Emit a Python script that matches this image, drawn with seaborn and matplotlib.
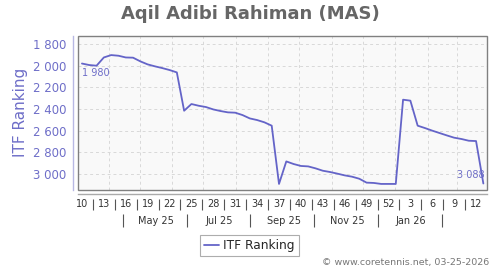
import matplotlib
matplotlib.use("Agg")
import matplotlib.pyplot as plt
import matplotlib.transforms as mtransforms
from matplotlib.patches import Rectangle
import seaborn as sns
import pandas as pd
import numpy as np

# ---- data ----
week_start = pd.Timestamp("2025-03-03")  # Monday of ISO week 10, 2025
ranking = [1980, 1994, 2000, 1924, 1902, 1908, 1924, 1926, 1960, 1988,
           2006, 2022, 2040, 2062, 2416, 2354, 2370, 2382, 2404, 2419,
           2431, 2434, 2456, 2487, 2502, 2523, 2554, 3092, 2884, 2908,
           2926, 2930, 2948, 2970, 2982, 2997, 3013, 3025, 3044, 3080,
           3083, 3092, 3092, 3092, 2314, 2323, 2554, 2576, 2600, 2622,
           2644, 2665, 2677, 2693, 2696, 3088]
week_labels = ["10", "13", "16", "19", "22", "25", "28", "31", "34", "37",
               "40", "43", "46", "49", "52", "3", "6", "9", "12"]
week_label_idx = list(range(0, 43, 3)) + [45, 48, 51, 54]
month_labels = ["May 25", "Jul 25", "Sep 25", "Nov 25", "Jan 26"]
month_label_dates = ["2025-05-16", "2025-07-16", "2025-09-16", "2025-11-16", "2026-01-16"]
month_sep_dates = ["2025-04-15", "2025-06-15", "2025-08-15", "2025-10-15", "2025-12-15", "2026-02-15"]
y_ticks = [1800, 2000, 2200, 2400, 2600, 2800, 3000]
series_name = "ITF Ranking"
title = "Aqil Adibi Rahiman (MAS)"
credit = "\u00a9 www.coretennis.net, 03-25-2026"

# weekly points placed at mid-week
dates = week_start + pd.to_timedelta(np.arange(len(ranking)) * 7 + 3.5, unit="D")
df = pd.DataFrame({"date": dates, series_name: ranking})

LINE = "#6464c8"
BLUE_TXT = "#6e6ec8"

sns.set_theme(style="white")
plt.rcParams["font.family"] = ["DejaVu Sans"]

fig = plt.figure(figsize=(5, 2.7), dpi=100)
fig.patch.set_facecolor("white")
ax = fig.add_axes([0.1566, 0.2963, 0.974 - 0.1566, 0.8678 - 0.2963])
ax.set_facecolor("#f9f9f9")

sns.lineplot(data=df, x="date", y=series_name, ax=ax, color=LINE, linewidth=1.3,
             label=series_name, legend=False)

ax.set_xlim(pd.Timestamp("2025-03-03"), pd.Timestamp("2026-03-30"))
ax.set_ylim(3148, 1723)

# grid: monthly verticals, y tick horizontals
month_starts = pd.date_range("2025-04-01", "2026-03-01", freq="MS")
ax.set_xticks(month_starts)
ax.set_xticklabels([])
ax.tick_params(axis="x", length=0)
ax.set_yticks(y_ticks)
ax.set_yticklabels([f"{v:,}".replace(",", " ") for v in y_ticks])
ax.tick_params(axis="y", length=0, pad=5, labelsize=8.5, labelcolor=BLUE_TXT)
ax.grid(True, color="#d8d8d8", linestyle=(0, (3, 3)), linewidth=0.7)
ax.set_xlabel("")
ax.set_ylabel("")

# spines: offset axis lines + box
for s in ["top", "right"]:
    ax.spines[s].set_visible(False)
ax.spines["left"].set_position(("outward", 3.6))
ax.spines["left"].set_color("#b8b8e4")
ax.spines["left"].set_linewidth(1.0)
ax.spines["bottom"].set_position(("outward", 3.1))
ax.spines["bottom"].set_color("#aaaaaa")
ax.spines["bottom"].set_linewidth(1.0)
ax.add_patch(Rectangle((0, 0), 1, 1, transform=ax.transAxes, fill=False,
                       edgecolor="#808080", linewidth=1.0, clip_on=False, zorder=5))

trans = mtransforms.blended_transform_factory(ax.transData, ax.transAxes)

# week labels and separators (between consecutive labels)
for idx, lab in zip(week_label_idx, week_labels):
    ax.text(dates[idx], -0.093, lab, transform=trans, ha="center", va="center",
            fontsize=7, color="#333333")
sep_idx = [i + 1.5 for i in week_label_idx[:-1]]
sep_dates = [week_start + pd.Timedelta(days=float(s) * 7 + 3.5) for s in sep_idx]
ax.vlines(sep_dates, -0.060, -0.130, transform=trans, colors="#555555",
          linewidth=0.8, clip_on=False)

# month labels and separators
for d, lab in zip(month_label_dates, month_labels):
    ax.text(pd.Timestamp(d), -0.199, lab, transform=trans, ha="center", va="center",
            fontsize=7, color="#333333")
ax.vlines([pd.Timestamp(d) for d in month_sep_dates], -0.1555, -0.238, transform=trans,
          colors="#555555", linewidth=0.8, clip_on=False)

# first / last annotations
ax.annotate(f"{ranking[0]:,}".replace(",", " "), (dates[0], ranking[0]),
            xytext=(0, -3), textcoords="offset points", ha="left", va="top",
            fontsize=7, color=BLUE_TXT)
ax.annotate(f"{ranking[-1]:,}".replace(",", " "), (dates[-1], ranking[-1]),
            xytext=(1, 2.5), textcoords="offset points", ha="right", va="bottom",
            fontsize=7, color=BLUE_TXT)

# title, y label, credit
fig.text(0.5, 0.948, title, ha="center", va="center", fontsize=13,
         fontweight="bold", color="#666666")
fig.text(0.0414, 0.582, series_name, rotation=90, ha="center", va="center",
         fontsize=11, color=BLUE_TXT)
fig.text(0.978, 0.026, credit, ha="right", va="center", fontsize=6.8, color="#777777")

# legend
handles, labels = ax.get_legend_handles_labels()
leg = fig.legend(handles, labels, loc="upper center", bbox_to_anchor=(0.499, 0.13),
                 frameon=True, fancybox=False, fontsize=8.7, handlelength=1.2,
                 handletextpad=0.35, borderpad=0.35, borderaxespad=0)
leg.get_frame().set_edgecolor("#999999")
leg.get_frame().set_linewidth(0.8)

fig.savefig("out.png", dpi=100, facecolor="white")
